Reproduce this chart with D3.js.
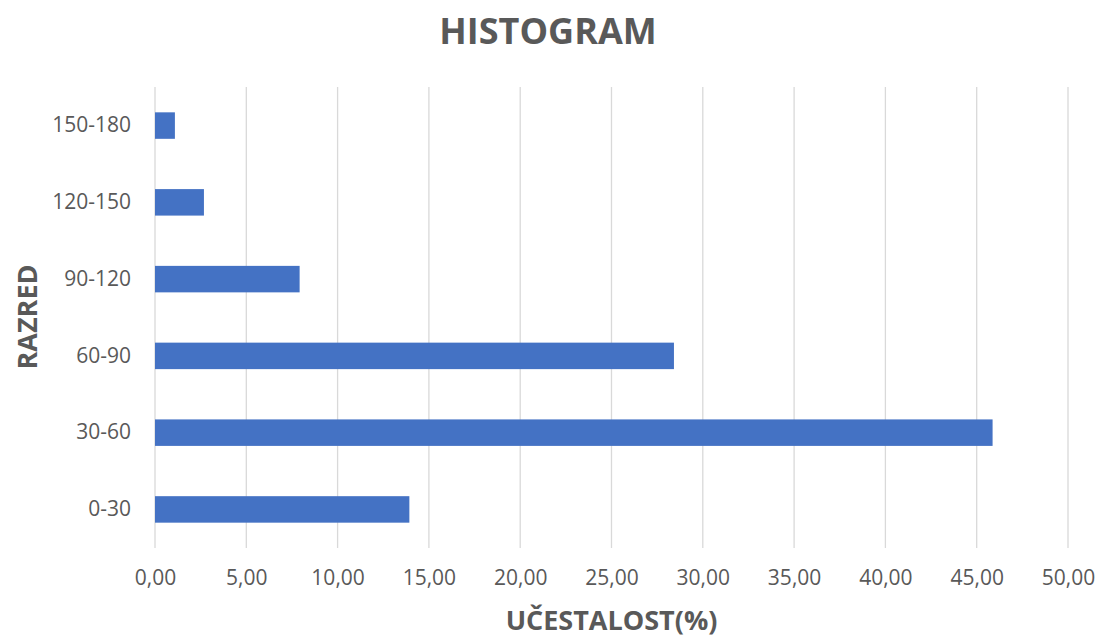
<!DOCTYPE html>
<html><head><meta charset="utf-8">
<script src="https://cdn.jsdelivr.net/npm/d3@7"></script>
<style>body{margin:0;background:#fff}</style>
</head><body>
<svg id="c" width="1101" height="639"></svg>
<script>
const categories = ["0-30","30-60","60-90","90-120","120-150","150-180"];
const values = [13.93,45.87,28.42,7.92,2.68,1.09];
const xTicks = [0,5,10,15,20,25,30,35,40,45,50];
const titleText = "HISTOGRAM";
const xTitle = "UČESTALOST(%)";
const yTitle = "RAZRED";

const svg = d3.select("#c");
const font = "'Open Sans', sans-serif";
const m = {left:155, right:1068, top:87, bottom:548};
const x = d3.scaleLinear().domain([0,50]).range([m.left, m.right]);
const y = d3.scaleBand().domain(categories.slice().reverse()).range([m.top, m.bottom]).paddingInner(0.655).paddingOuter(0.33);

svg.append("g").selectAll("line").data(xTicks).join("line")
  .attr("x1",d=>x(d)).attr("x2",d=>x(d)).attr("y1",m.top).attr("y2",m.bottom)
  .attr("stroke","#d9d9d9").attr("stroke-width",1.3);

svg.append("g").selectAll("rect").data(categories).join("rect")
  .attr("x",x(0)).attr("y",d=>y(d))
  .attr("width",(d,i)=>x(values[i])-x(0)).attr("height",y.bandwidth())
  .attr("fill","#4472C4");

const xa = d3.axisBottom(x).tickValues(xTicks).tickSize(0).tickPadding(0)
  .tickFormat(d=>d3.format(".2f")(d).replace(".",","));
const gx = svg.append("g").attr("transform",`translate(0,${m.bottom})`).call(xa);
gx.select(".domain").remove();
gx.selectAll("text").attr("dy",null).attr("y",37).attr("font-family",font).attr("font-size",21).attr("fill","#595959");

const ya = d3.axisLeft(y).tickSize(0).tickPadding(24);
const gy = svg.append("g").attr("transform",`translate(${m.left},0)`).call(ya);
gy.select(".domain").remove();
gy.selectAll("text").attr("font-family",font).attr("font-size",21).attr("fill","#595959");

svg.append("text").attr("x",548).attr("y",44).attr("text-anchor","middle")
  .attr("font-family",font).attr("font-weight","bold").attr("font-size",36).attr("fill","#595959").text(titleText);
svg.append("text").attr("x",(m.left+m.right)/2).attr("y",630).attr("text-anchor","middle")
  .attr("font-family",font).attr("font-weight","bold").attr("font-size",27).attr("fill","#595959").text(xTitle);
svg.append("text").attr("transform",`translate(37,317) rotate(-90)`).attr("text-anchor","middle")
  .attr("font-family",font).attr("font-weight","bold").attr("font-size",27).attr("fill","#595959").text(yTitle);
</script>
</body></html>
